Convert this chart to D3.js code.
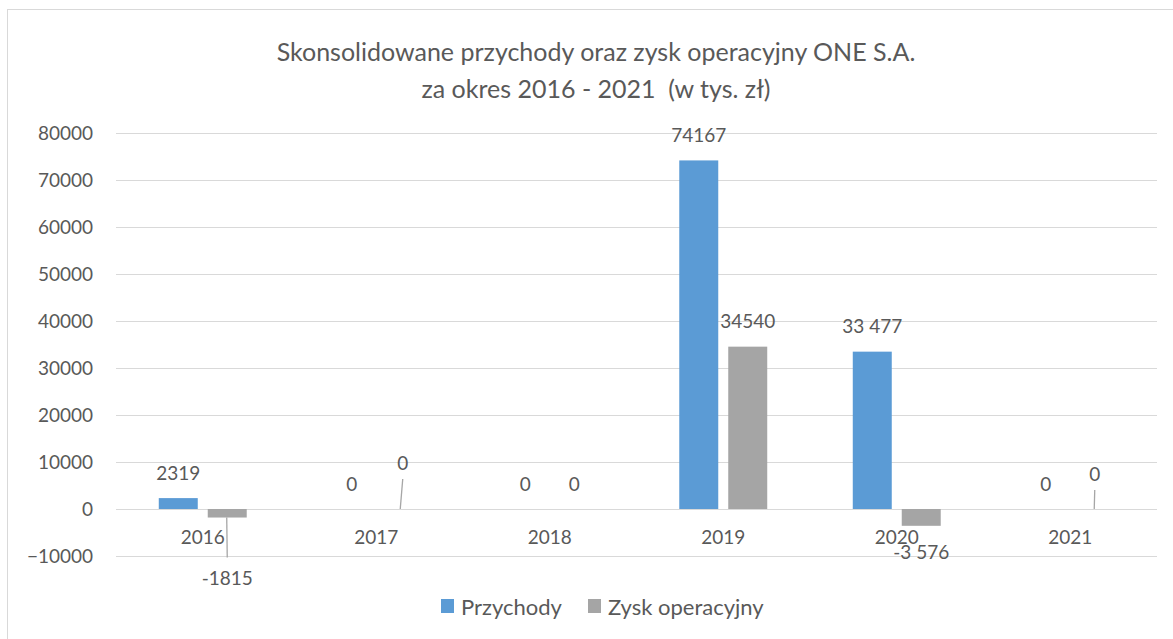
<!DOCTYPE html>
<html>
<head>
<meta charset="utf-8">
<script src="https://cdn.jsdelivr.net/npm/d3@7"></script>
<style>
  body { margin: 0; background: #fff; }
  text { font-family: Lato, "Open Sans", sans-serif; fill: #595959; }
</style>
</head>
<body>
<svg id="chart" width="1173" height="639"></svg>
<script>
'use strict'

const years = ['2016', '2017', '2018', '2019', '2020', '2021']
const seriesNames = ['Przychody', 'Zysk operacyjny']
const przychody = [2319, 0, 0, 74167, 33477, 0]
const zysk = [-1815, 0, 0, 34540, -3576, 0]
const przychodyLabels = ['2319', '0', '0', '74167', '33 477', '0']
const zyskLabels = ['-1815', '0', '0', '34540', '-3 576', '0']
const yTicks = [-10000, 0, 10000, 20000, 30000, 40000, 50000, 60000, 70000, 80000]
const titleLines = ['Skonsolidowane przychody oraz zysk operacyjny ONE S.A.', 'za okres 2016 - 2021  (w tys. zł)']

const colors = ['#5B9BD5', '#A5A5A5']
const gridColor = '#D9D9D9'

// labels dragged away from their bars in the original (series, index) -> pixel shift
const labelMoves = {
  '1-0': { dx: 0, dy: 34 },
  '1-1': { dx: 2, dy: -21 },
  '1-5': { dx: 0, dy: -10 }
}

const svg = d3.select('#chart')
const plot = { left: 116, right: 1157, top: 133, bottom: 556 }

// outer frame
svg.append('rect')
  .attr('x', 7.5).attr('y', 9.5)
  .attr('width', 1200).attr('height', 700)
  .attr('fill', 'none').attr('stroke', gridColor)

svg.append('g').selectAll('text')
  .data(titleLines)
  .enter().append('text')
  .attr('x', 596)
  .attr('y', (d, i) => 51 + i * 37)
  .attr('text-anchor', 'middle')
  .attr('dominant-baseline', 'central')
  .style('font-size', '25px')
  .style('white-space', 'pre')
  .text(d => d)

const y = d3.scaleLinear().domain([-10000, 80000]).range([plot.bottom, plot.top])
const x0 = d3.scaleBand().domain(years).range([plot.left, plot.right])
  .paddingInner(0.493).paddingOuter(0.2465)
const x1 = d3.scaleBand().domain([0, 1]).range([0, x0.bandwidth()]).paddingInner(0.204)

// gridlines
svg.append('g').selectAll('line')
  .data(yTicks)
  .enter().append('line')
  .attr('x1', plot.left).attr('x2', plot.right)
  .attr('y1', d => Math.round(y(d)) + 0.5).attr('y2', d => Math.round(y(d)) + 0.5)
  .attr('stroke', gridColor)

// y axis labels
const yAxis = d3.axisLeft(y).tickValues(yTicks).tickSize(0).tickPadding(0).tickFormat(d3.format('d'))
svg.append('g')
  .attr('transform', 'translate(93,0)')
  .call(yAxis)
  .call(g => g.select('.domain').remove())
  .call(g => g.selectAll('text').style('font-size', '19px').attr('fill', '#595959'))

// category labels
const xAxis = d3.axisBottom(x0).tickSize(0).tickPadding(0)
svg.append('g')
  .attr('transform', `translate(0,${y(0) + 21})`)
  .call(xAxis)
  .call(g => g.select('.domain').remove())
  .call(g => g.selectAll('text').style('font-size', '19px').attr('fill', '#595959'))

const series = [przychody, zysk]
const seriesLabels = [przychodyLabels, zyskLabels]
const rows = []
series.forEach((vals, s) => {
  vals.forEach((v, i) => rows.push({ s, i, year: years[i], value: v, label: seriesLabels[s][i] }))
})

const barX = d => x0(d.year) + x1(d.s)
const barW = x1.bandwidth()

svg.append('g').selectAll('rect')
  .data(rows.filter(d => d.value !== 0))
  .enter().append('rect')
  .attr('x', barX)
  .attr('width', barW)
  .attr('y', d => y(Math.max(0, d.value)))
  .attr('height', d => Math.abs(y(d.value) - y(0)))
  .attr('fill', d => colors[d.s])

// data labels, with leader lines for the moved ones
const labelPos = d => {
  const cx = barX(d) + barW / 2
  const cy = d.value < 0 ? y(d.value) + 26 : y(d.value) - 26
  const m = labelMoves[`${d.s}-${d.i}`]
  return m ? { cx: cx + m.dx, cy: cy + m.dy, moved: true } : { cx, cy, moved: false }
}

svg.append('g').selectAll('line')
  .data(rows.filter(d => labelPos(d).moved))
  .enter().append('line')
  .attr('x1', d => barX(d) + barW / 2 - 0.5)
  .attr('y1', d => y(d.value))
  .attr('x2', d => labelPos(d).cx)
  .attr('y2', d => labelPos(d).cy + (d.value < 0 ? -20 : 17))
  .attr('stroke', '#A6A6A6')
  .attr('stroke-width', 1.3)

svg.append('g').selectAll('text')
  .data(rows)
  .enter().append('text')
  .attr('x', d => labelPos(d).cx)
  .attr('y', d => labelPos(d).cy)
  .attr('text-anchor', 'middle')
  .attr('dominant-baseline', 'central')
  .style('font-size', '19px')
  .text(d => d.label)

// legend
const legend = svg.append('g').attr('transform', 'translate(441,606)')
const legendX = [0, 147]
seriesNames.forEach((name, s) => {
  const g = legend.append('g').attr('transform', `translate(${legendX[s]},0)`)
  g.append('rect').attr('x', 0).attr('y', -7).attr('width', 13).attr('height', 14).attr('fill', colors[s])
  g.append('text').attr('x', 20).attr('y', 0)
    .attr('dominant-baseline', 'central')
    .style('font-size', '22px')
    .text(name)
})
</script>
</body>
</html>
